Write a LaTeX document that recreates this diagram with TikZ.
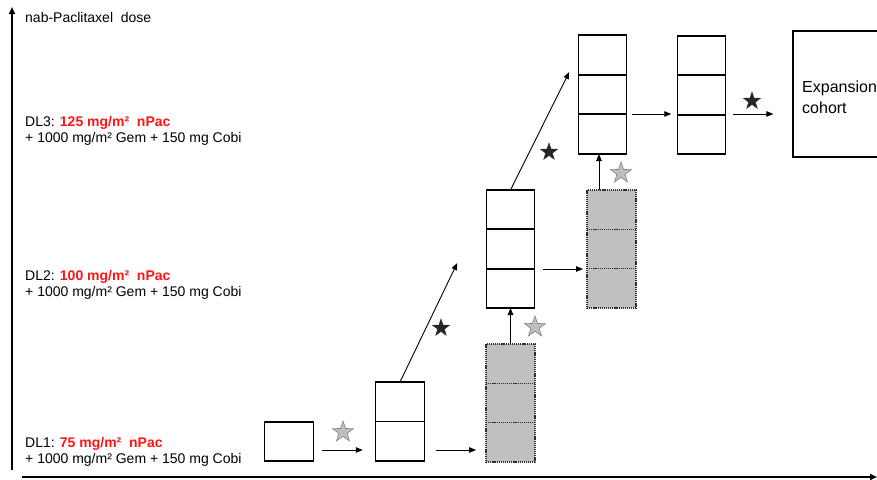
\documentclass[tikz,border=0pt]{standalone}
\usepackage{fontspec}
\setmainfont{Liberation Sans}
\usetikzlibrary{arrows.meta,calc,shapes.geometric}

\definecolor{cellgray}{HTML}{C0C0C0}
\definecolor{dotgray}{HTML}{2E2E2E}
\definecolor{stargray}{HTML}{BFBFBF}
\definecolor{staredge}{HTML}{7F7F7F}
\definecolor{stardark}{HTML}{262626}
\definecolor{dosered}{HTML}{FF1414}

\tikzset{
  cohortbox/.style={draw=black, line width=1.2pt, fill=white, inner sep=0pt, outer sep=0pt,
                    minimum width=48.5pt},
  graybox/.style={draw=dotgray, dash pattern=on 1.2pt off 0.9pt, line width=1.1pt, fill=cellgray,
                  inner sep=0pt, outer sep=0pt, minimum width=49pt},
  divider/.style={line width=1.8pt, black},
  graydivider/.style={line width=1.4pt, dotgray, dash pattern=on 1.2pt off 0.9pt},
  flow/.style={line width=0.9pt, -{Triangle[length=7pt,width=5.5pt]}},
  axis/.style={line width=1.8pt, -{Triangle[length=7pt,width=6pt]}},
  starbase/.style={star, star points=5, star point ratio=2.55, inner sep=0pt, outer sep=0pt},
  graystar/.style={starbase, draw=staredge, fill=stargray, line width=0.6pt, minimum size=22pt},
  darkstar/.style={starbase, draw=stardark, fill=stardark, line width=0.4pt, minimum size=18pt},
  label/.style={anchor=base west, inner sep=0pt, font=\fontsize{14}{16}\selectfont},
}

\begin{document}
\begin{tikzpicture}[x=1pt, y=-1pt]
\useasboundingbox (0,0) rectangle (877,479);

% axes
\coordinate (yfoot) at (12,470);
\coordinate (ytip) at (12,7);
\coordinate (xfoot) at (22,477);
\coordinate (xtip) at (877,477);
\draw[axis] (yfoot) -- (ytip);
\draw[axis] (xfoot) -- (xtip);

% axis and dose-level labels
\node[label] (ytitle) at (25,22) {nab-Paclitaxel\ \ dose};

\node[label] (dl3a) at (25,126) {DL3: {\color{dosered}\bfseries 125 mg/m²\ \ nPac}};
\node[label] (dl3b) at (25,142) {+ 1000 mg/m² Gem + 150 mg Cobi};
\node[label] (dl2a) at (25,280) {DL2: {\color{dosered}\bfseries 100 mg/m²\ \ nPac}};
\node[label] (dl2b) at (25,296) {+ 1000 mg/m² Gem + 150 mg Cobi};
\node[label] (dl1a) at (25,447.5) {DL1: {\color{dosered}\bfseries 75 mg/m²\ \ nPac}};
\node[label] (dl1b) at (25,463.5) {+ 1000 mg/m² Gem + 150 mg Cobi};

% cohort stacks
\node[cohortbox, minimum height=39pt] (A) at (289,441.5) {};

\node[cohortbox, minimum height=79pt] (B) at (400,421.5) {};
\draw[divider] (B.west) -- (B.east);

\node[graybox, minimum height=118pt] (C) at (510.5,403) {};
\draw[graydivider] ($(C.north west)!1/3!(C.south west)$) -- ($(C.north east)!1/3!(C.south east)$);
\draw[graydivider] ($(C.north west)!2/3!(C.south west)$) -- ($(C.north east)!2/3!(C.south east)$);

\node[cohortbox, minimum height=118pt] (D) at (510.5,249) {};
\draw[divider] ($(D.north west)!1/3!(D.south west)$) -- ($(D.north east)!1/3!(D.south east)$);
\draw[divider] ($(D.north west)!2/3!(D.south west)$) -- ($(D.north east)!2/3!(D.south east)$);

\node[graybox, minimum height=118pt] (E) at (611.5,249) {};
\draw[graydivider] ($(E.north west)!1/3!(E.south west)$) -- ($(E.north east)!1/3!(E.south east)$);
\draw[graydivider] ($(E.north west)!2/3!(E.south west)$) -- ($(E.north east)!2/3!(E.south east)$);

\node[cohortbox, minimum height=119pt] (F) at (602.5,94.5) {};
\draw[divider] ($(F.north west)!1/3!(F.south west)$) -- ($(F.north east)!1/3!(F.south east)$);
\draw[divider] ($(F.north west)!2/3!(F.south west)$) -- ($(F.north east)!2/3!(F.south east)$);

\node[cohortbox, minimum height=118pt] (G) at (701.5,95) {};
\draw[divider] ($(G.north west)!1/3!(G.south west)$) -- ($(G.north east)!1/3!(G.south east)$);
\draw[divider] ($(G.north west)!2/3!(G.south west)$) -- ($(G.north east)!2/3!(G.south east)$);

% expansion cohort (runs past the right edge)
\node[draw=black, line width=1.2pt, inner sep=0pt, minimum width=110pt, minimum height=126pt] (X) at (848,94) {};
\node[anchor=base west, inner sep=0pt, font=\fontsize{16}{21}\selectfont] (xa) at (802,92) {Expansion};
\node[anchor=base west, inner sep=0pt, font=\fontsize{16}{21}\selectfont] (xb) at (802,113) {cohort};

% transitions
\draw[flow] ($(A.east)+(9,8.5)$) -- ($(B.west)+(-13,28.5)$);
\draw[flow] ($(B.east)+(12,28.5)$) -- ($(C.west)+(-10,47)$);
\draw[flow] (C.north) -- (D.south);
\draw[flow] (B.north) -- ($(D.west)+(-29,14)$);
\draw[flow] ($(D.east)+(8,20)$) -- ($(E.west)+(-4,20)$);
\draw[flow] ($(E.north)+(-12.5,0)$) -- ($(F.south)+(-3.5,0)$);
\draw[flow] (D.north) -- ($(F.west)+(-9,-22.5)$);
\draw[flow] ($(F.east)+(5,19.5)$) -- ($(G.west)+(-6,19)$);
\draw[flow] ($(G.east)+(7,19)$) -- ($(X.west)+(-19,20)$);

% escalation markers
\node[graystar] (s1) at (343,432) {};
\node[graystar] (s2) at (535,327) {};
\node[graystar] (s3) at (621,173) {};
\node[darkstar] (k1) at (441,328) {};
\node[darkstar] (k2) at (549,152) {};
\node[darkstar] (k3) at (752,101) {};
\end{tikzpicture}
\end{document}
